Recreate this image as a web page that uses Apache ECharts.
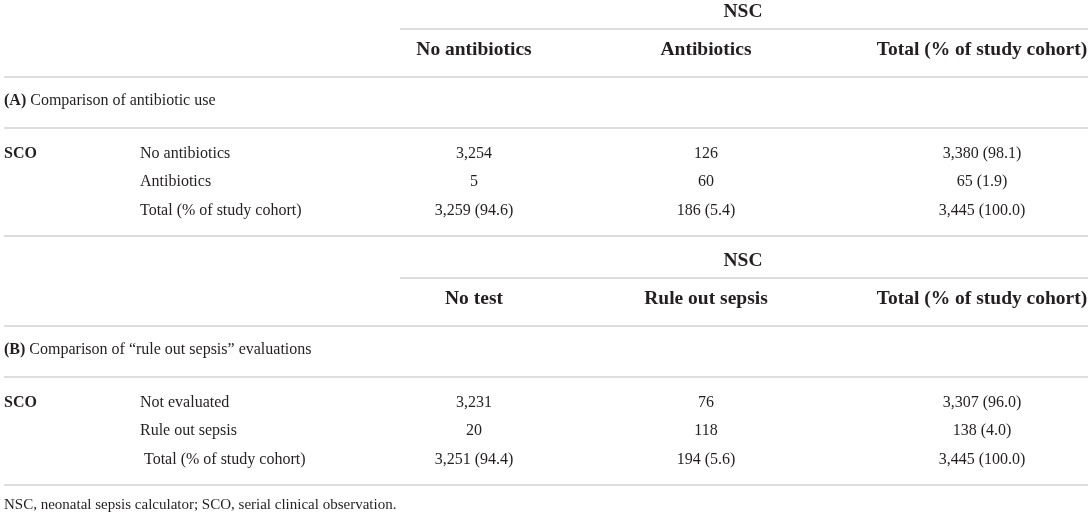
<!DOCTYPE html>
<html>
<head>
<meta charset="utf-8">
<script src="https://cdn.jsdelivr.net/npm/echarts@6/dist/echarts.min.js"></script>
<style>
html,body{margin:0;padding:0;background:#fff;}
#chart{width:1091px;height:514px;}
</style>
</head>
<body>
<div id="chart"></div>
<script>
// ---------- DATA ----------
const nscLabel = 'NSC';
const groupRowLabel = 'SCO';
const sectionTags = ['(A)', '(B)'];
const sectionTitles = ['Comparison of antibiotic use', 'Comparison of \u201crule out sepsis\u201d evaluations'];
const colHeadersA = ['No antibiotics', 'Antibiotics', 'Total (% of study cohort)'];
const colHeadersB = ['No test', 'Rule out sepsis', 'Total (% of study cohort)'];
const rowLabelsA = ['No antibiotics', 'Antibiotics', 'Total (% of study cohort)'];
const rowLabelsB = ['Not evaluated', 'Rule out sepsis', ' Total (% of study cohort)'];
const countsA = [[3254, 126, 3380], [5, 60, 65], [3259, 186, 3445]];
const countsB = [[3231, 76, 3307], [20, 118, 138], [3251, 194, 3445]];
const totalColPctA = [98.1, 1.9, 100.0];
const totalRowPctA = [94.6, 5.4, 100.0];
const totalColPctB = [96.0, 4.0, 100.0];
const totalRowPctB = [94.4, 5.6, 100.0];
const footnote = 'NSC, neonatal sepsis calculator; SCO, serial clinical observation.';

// ---------- LAYOUT ----------
const W = 1091, H = 514;
const FONT = '"Liberation Serif", "Times New Roman", serif';
const INK = '#231f20';
const RULE = '#d2d2d2';
const colX = { group: 4, label: 140, nsc: 743, c: [474, 706, 982] };
const sectionOffset = [0, 249];
const rowY = { nsc: 12, head: 50, title: 101, body: [154, 182, 211], foot: 505 };
const ruleY = { partial: 29, head: 77, title: 128, end: 236 };
const ruleX = { left: 4, partial: 400, right: 1088 };

// ---------- BUILD ----------
function fmt(n) { return n.toLocaleString('en-US'); }
function cellText(counts, colPct, rowPct, r, c) {
  const v = fmt(counts[r][c]);
  if (r === 2) return v + ' (' + rowPct[c].toFixed(1) + ')';
  if (c === 2) return v + ' (' + colPct[r].toFixed(1) + ')';
  return v;
}

const texts = []; // [x, y, text, align, kind]
const rules = []; // [x1, x2, y]
const sections = [
  { heads: colHeadersA, labels: rowLabelsA, counts: countsA, colPct: totalColPctA, rowPct: totalRowPctA },
  { heads: colHeadersB, labels: rowLabelsB, counts: countsB, colPct: totalColPctB, rowPct: totalRowPctB }
];
sections.forEach((s, i) => {
  const o = sectionOffset[i];
  texts.push([colX.nsc, rowY.nsc + o, nscLabel, 'center', 'head']);
  s.heads.forEach((h, c) => texts.push([colX.c[c], rowY.head + o, h, 'center', 'head']));
  texts.push([colX.group, rowY.title + o, '{b|' + sectionTags[i] + '} ' + sectionTitles[i], 'left', 'body']);
  texts.push([colX.group, rowY.body[0] + o, groupRowLabel, 'left', 'bold']);
  s.labels.forEach((l, r) => {
    texts.push([colX.label, rowY.body[r] + o, l, 'left', 'body']);
    for (let c = 0; c < 3; c++) {
      texts.push([colX.c[c], rowY.body[r] + o, cellText(s.counts, s.colPct, s.rowPct, r, c), 'center', 'body']);
    }
  });
  rules.push([ruleX.partial, ruleX.right, ruleY.partial + o]);
  rules.push([ruleX.left, ruleX.right, ruleY.head + o]);
  rules.push([ruleX.left, ruleX.right, ruleY.title + o]);
  rules.push([ruleX.left, ruleX.right, ruleY.end + o]);
});
texts.push([colX.group, rowY.foot, footnote, 'left', 'foot']);

const fonts = {
  head: 'bold 19.5px ' + FONT,
  bold: 'bold 16px ' + FONT,
  body: '16px ' + FONT,
  foot: '15px ' + FONT
};

const chart = echarts.init(document.getElementById('chart'), null, { renderer: 'canvas' });
chart.setOption({
  backgroundColor: '#ffffff',
  animation: false,
  grid: { left: 0, right: 0, top: 0, bottom: 0 },
  xAxis: { type: 'value', min: 0, max: W, show: false },
  yAxis: { type: 'value', min: 0, max: H, inverse: true, show: false },
  series: [
    {
      type: 'custom',
      data: rules,
      renderItem: function (params, api) {
        const p1 = api.coord([api.value(0), api.value(2)]);
        const p2 = api.coord([api.value(1), api.value(2)]);
        return {
          type: 'line',
          shape: { x1: p1[0], y1: p1[1], x2: p2[0], y2: p2[1] },
          style: { stroke: RULE, lineWidth: 1.6 }
        };
      }
    },
    {
      type: 'custom',
      data: texts.map(t => [t[0], t[1]]),
      renderItem: function (params, api) {
        const t = texts[params.dataIndex];
        const p = api.coord([api.value(0), api.value(1)]);
        return {
          type: 'text',
          x: p[0], y: p[1],
          style: {
            text: t[2],
            font: fonts[t[4]],
            fill: INK,
            align: t[3],
            verticalAlign: 'middle',
            rich: {
              b: { font: 'bold 16px ' + FONT, fill: INK }
            }
          }
        };
      }
    }
  ]
});
</script>
</body>
</html>
